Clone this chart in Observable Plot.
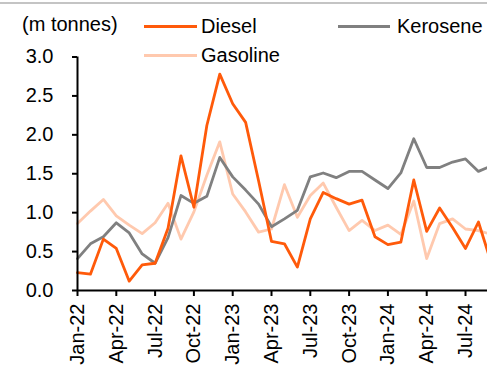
<!DOCTYPE html>
<html>
<head>
<meta charset="utf-8">
<script src="https://cdn.jsdelivr.net/npm/d3@7"></script>
<script src="https://cdn.jsdelivr.net/npm/@observablehq/plot@0.6"></script>
<style>
  html, body { margin: 0; padding: 0; background: #fff; overflow: hidden; }
  #wrap { position: relative; width: 487px; height: 365px; font-family: "Liberation Sans", Arial, sans-serif; }
  #topline { position: absolute; left: 0; top: 2px; width: 487px; height: 2px; background: #c4c4c4; }
  .lbl { position: absolute; font-size: 20px; line-height: 20px; white-space: nowrap; color: #000; }
  .sw { position: absolute; height: 3px; }
  #chart { position: absolute; left: 0; top: 0; }
</style>
</head>
<body>
<div id="wrap">
  <div id="chart"></div>
  <div id="topline"></div>
  <div class="lbl" style="left:22px; top:14px;">(m tonnes)</div>
  <div class="sw" style="left:144px; top:24.5px; width:53px; background:#FF5A0A;"></div>
  <div class="lbl" style="left:201px; top:16px;">Diesel</div>
  <div class="sw" style="left:144px; top:53.5px; width:53px; background:#FFC9AE;"></div>
  <div class="lbl" style="left:201px; top:45px;">Gasoline</div>
  <div class="sw" style="left:338px; top:25px; width:52px; background:#808080;"></div>
  <div class="lbl" style="left:397px; top:16px;">Kerosene</div>
</div>
<script>
const months = ["Jan-22","Feb-22","Mar-22","Apr-22","May-22","Jun-22","Jul-22","Aug-22","Sep-22","Oct-22","Nov-22","Dec-22",
  "Jan-23","Feb-23","Mar-23","Apr-23","May-23","Jun-23","Jul-23","Aug-23","Sep-23","Oct-23","Nov-23","Dec-23",
  "Jan-24","Feb-24","Mar-24","Apr-24","May-24","Jun-24","Jul-24","Aug-24","Sep-24"];
const diesel   = [0.23,0.21,0.66,0.54,0.12,0.33,0.35,0.80,1.73,1.07,2.12,2.78,2.40,2.16,1.41,0.63,0.60,0.30,0.92,1.26,1.18,1.11,1.16,0.69,0.59,0.62,1.42,0.76,1.06,0.81,0.54,0.88,0.35];
const gasoline = [0.86,1.02,1.17,0.96,0.84,0.73,0.87,1.12,0.66,1.01,1.48,1.91,1.24,1.01,0.75,0.79,1.36,0.94,1.22,1.38,1.07,0.77,0.90,0.77,0.84,0.72,1.15,0.41,0.86,0.92,0.79,0.77,0.72];
const kerosene = [0.41,0.60,0.69,0.87,0.74,0.47,0.35,0.68,1.22,1.12,1.21,1.71,1.46,1.29,1.11,0.82,0.92,1.03,1.46,1.51,1.45,1.53,1.53,1.42,1.31,1.51,1.95,1.58,1.58,1.65,1.69,1.53,1.60];
const xTicks = ["Jan-22","Apr-22","Jul-22","Oct-22","Jan-23","Apr-23","Jul-23","Oct-23","Jan-24","Apr-24","Jul-24"];
const yTicks = [0, 0.5, 1, 1.5, 2, 2.5, 3];

const toRows = (vals) => months.map((m, i) => ({idx: i, month: m, value: vals[i]}));
const tickIdx = xTicks.map(t => months.indexOf(t));

const chart = Plot.plot({
  width: 487,
  height: 365,
  marginLeft: 77,
  marginRight: 0,
  marginTop: 56.5,
  marginBottom: 75,
  style: {fontFamily: "'Liberation Sans', Arial, sans-serif", fontSize: "20px", color: "#000", background: "transparent"},
  x: {type: "linear", domain: [0, 31.7]},
  y: {domain: [0, 3]},
  marks: [
    Plot.line(toRows(gasoline), {x: "idx", y: "value", stroke: "#FFC9AE", strokeWidth: 2.8}),
    Plot.line(toRows(kerosene), {x: "idx", y: "value", stroke: "#808080", strokeWidth: 2.8}),
    Plot.line(toRows(diesel), {x: "idx", y: "value", stroke: "#FF5A0A", strokeWidth: 2.8}),
    Plot.ruleX([0], {y1: 0, y2: 3, stroke: "#000", strokeWidth: 2}),
    Plot.ruleY([0], {stroke: "#000", strokeWidth: 2}),
    Plot.axisY({ticks: yTicks, tickSize: 5, tickPadding: 19, tickFormat: d3.format(".1f"), label: null, strokeWidth: 2}),
    Plot.axisX({ticks: tickIdx, tickSize: 6, tickPadding: 7, tickRotate: -90, tickFormat: i => months[i], label: null, strokeWidth: 2})
  ]
});
document.getElementById("chart").appendChild(chart);
</script>
</body>
</html>
